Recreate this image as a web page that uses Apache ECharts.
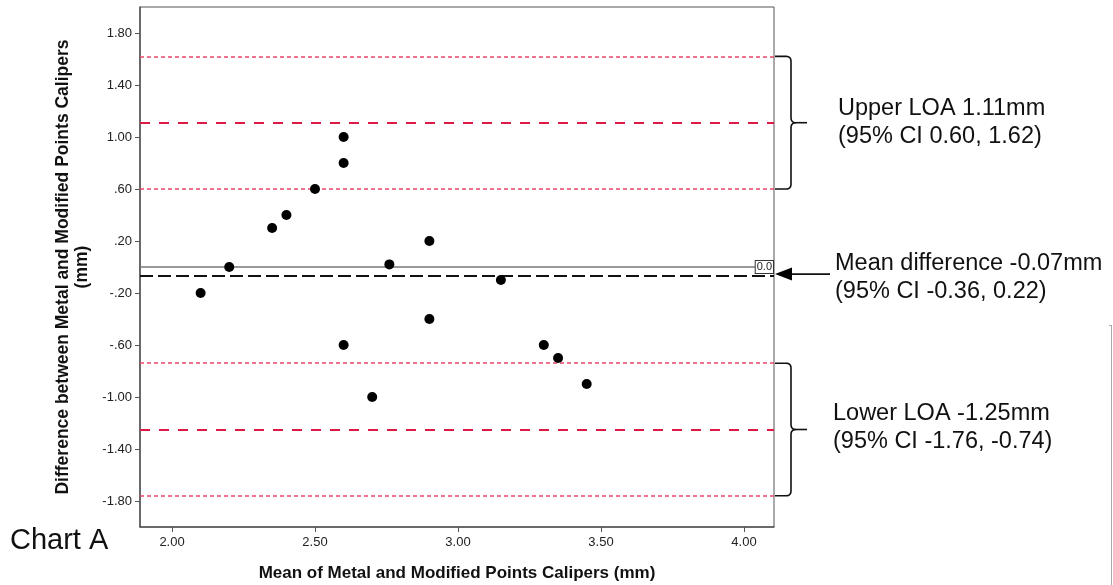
<!DOCTYPE html>
<html><head><meta charset="utf-8">
<script src="https://cdn.jsdelivr.net/npm/echarts@6/dist/echarts.min.js"></script>
<style>html,body{margin:0;padding:0;background:#fff;} #c{width:1113px;height:585px;}</style>
</head><body><div id="c"></div>
<script>
// Data
const meanValues = [2.10, 2.20, 2.35, 2.40, 2.50, 2.60, 2.60, 2.76, 2.90, 2.60, 2.70, 2.90, 3.15, 3.30, 3.35, 3.45];
const diffValues = [-0.20, 0.00, 0.30, 0.40, 0.60, 1.00, 0.80, 0.02, 0.20, -0.60, -1.00, -0.40, -0.10, -0.60, -0.70, -0.90];
const xTickValues = [2.0, 2.5, 3.0, 3.5, 4.0];
const xTickLabels = ["2.00", "2.50", "3.00", "3.50", "4.00"];
const yTickValues = [1.8, 1.4, 1.0, 0.6, 0.2, -0.2, -0.6, -1.0, -1.4, -1.8];
const yTickLabels = ["1.80", "1.40", "1.00", ".60", ".20", "-.20", "-.60", "-1.00", "-1.40", "-1.80"];
const zeroLine = [0];
const meanDiff = [-0.07];
const meanCI = [-0.36, 0.22];
const upperLOA = [1.11];
const upperCI = [0.60, 1.62];
const lowerLOA = [-1.25];
const lowerCI = [-1.76, -0.74];
const annotationTexts = [
  "Upper LOA 1.11mm\n(95% CI 0.60, 1.62)",
  "Mean difference -0.07mm\n(95% CI -0.36, 0.22)",
  "Lower LOA -1.25mm\n(95% CI -1.76, -0.74)"
];
const xRange = [1.888, 4.105];
const yRange = [-2.0, 2.0];

const chart = echarts.init(document.getElementById('c'), null, {renderer: 'canvas'});
const lbl = (vals, labels) => v => { const i = vals.findIndex(t => Math.abs(t - v) < 1e-6); return i >= 0 ? labels[i] : ''; };
const RED_DASH = '#dc1a45', RED_DOT = '#e8456b';
const mk = (v, color, width, dash) => ({ yAxis: v, lineStyle: { color: color, width: width, type: dash } });

chart.setOption({
  animation: false,
  backgroundColor: '#fff',
  grid: { left: 140, right: 339, top: 7, bottom: 58, show: true, borderColor: '#555', borderWidth: 1, outerBoundsMode: 'none', containLabel: false },
  xAxis: {
    type: 'value', min: xRange[0], max: xRange[1],
    name: 'Mean of Metal and Modified Points Calipers (mm)', nameLocation: 'middle', nameGap: 38,
    nameTextStyle: { fontFamily: 'Liberation Sans', fontWeight: 'bold', fontSize: 17, color: '#111' },
    axisLine: { show: true, onZero: false, lineStyle: { color: '#555', width: 1.5 } },
    axisTick: { show: true, length: 5, customValues: xTickValues, lineStyle: { color: '#555' } },
    axisLabel: { customValues: xTickValues, formatter: lbl(xTickValues, xTickLabels), margin: 9,
      fontFamily: 'Liberation Sans', fontSize: 13, color: '#222' },
    splitLine: { show: false }
  },
  yAxis: {
    type: 'value', min: yRange[0], max: yRange[1],
    name: 'Difference between Metal and Modified Points Calipers\n(mm)', nameLocation: 'middle', nameGap: 48,
    nameTextStyle: { fontFamily: 'Liberation Sans', fontWeight: 'bold', fontSize: 17.5, color: '#111', lineHeight: 19, align: 'center' },
    axisLine: { show: true, onZero: false, lineStyle: { color: '#555', width: 1.5 } },
    axisTick: { show: true, length: 5, customValues: yTickValues, lineStyle: { color: '#555' } },
    axisLabel: { customValues: yTickValues, formatter: lbl(yTickValues, yTickLabels), margin: 8,
      fontFamily: 'Liberation Sans', fontSize: 13, color: '#222' },
    splitLine: { show: false }
  },
  series: [{
    type: 'scatter',
    data: meanValues.map((m, i) => [m, diffValues[i]]),
    symbolSize: 10,
    itemStyle: { color: '#000', opacity: 1 },
    z: 5,
    markLine: {
      silent: true, symbol: 'none', animation: false,
      label: { show: false },
      data: [
        mk(upperCI[1], RED_DOT, 1.5, [4, 3]),
        mk(upperLOA[0], RED_DASH, 2, [10, 9]),
        mk(upperCI[0], RED_DOT, 1.5, [4, 3]),
        { yAxis: zeroLine[0], lineStyle: { color: '#777', width: 1.5, type: 'solid' },
          label: { show: true, position: 'insideEnd', distance: 1, formatter: '0.0',
            fontFamily: 'Liberation Sans', fontSize: 11, color: '#222', backgroundColor: '#fff',
            borderColor: '#333', borderWidth: 1, padding: [1, 1, 0, 1] } },
        mk(meanDiff[0], '#111', 2, [13, 5]),
        mk(lowerCI[1], RED_DOT, 1.5, [4, 3]),
        mk(lowerLOA[0], RED_DASH, 2, [10, 9]),
        mk(lowerCI[0], RED_DOT, 1.5, [4, 3])
      ]
    }
  }]
});

// Annotations positioned from the chart's own scales
const P = (x, y) => chart.convertToPixel({ gridIndex: 0 }, [x, y]);
const right = P(xRange[1], 0)[0];
function quad(p0, c, p1, n) {
  const out = [];
  for (let i = 1; i <= n; i++) {
    const t = i / n, u = 1 - t;
    out.push([u * u * p0[0] + 2 * u * t * c[0] + t * t * p1[0], u * u * p0[1] + 2 * u * t * c[1] + t * t * p1[1]]);
  }
  return out;
}
function bracePts(yTop, yMid, yBot) {
  const x0 = right + 1, xv = right + 17, xt = right + 33, r = 5;
  let pts = [[x0, yTop], [xv - r, yTop]];
  pts = pts.concat(quad([xv - r, yTop], [xv, yTop], [xv, yTop + r], 6));
  pts.push([xv, yMid - r]);
  pts = pts.concat(quad([xv, yMid - r], [xv, yMid], [xv + r, yMid], 6));
  const upper = pts;
  let low = [[xv + r, yMid]];
  low = low.concat(quad([xv + r, yMid], [xv, yMid], [xv, yMid + r], 6));
  low.push([xv, yBot - r]);
  low = low.concat(quad([xv, yBot - r], [xv, yBot], [xv - r, yBot], 6));
  low.push([x0, yBot]);
  return [upper, low, [[xv + r, yMid], [xt, yMid]]];
}
const yU = [P(0, upperCI[1])[1], P(0, upperLOA[0])[1], P(0, upperCI[0])[1]];
const yL = [P(0, lowerCI[1])[1], P(0, lowerLOA[0])[1], P(0, lowerCI[0])[1]];
const yM = P(0, meanDiff[0])[1];
const textStyle = { fontFamily: 'Liberation Sans', fontSize: 23.5, fill: '#111', lineHeight: 28, verticalAlign: 'middle', align: 'left' };
const graphics = [];
[bracePts(yU[0], yU[1], yU[2]), bracePts(yL[0], yL[1], yL[2])].forEach(parts => {
  parts.forEach(p => graphics.push({ type: 'polyline', shape: { points: p }, style: { stroke: '#111', lineWidth: 1.6, fill: null } }));
});
graphics.push(
  { type: 'line', shape: { x1: right + 16, y1: yM - 2, x2: right + 56, y2: yM - 2 }, style: { stroke: '#111', lineWidth: 1.6 } },
  { type: 'polygon', shape: { points: [[right + 1, yM - 2], [right + 18, yM - 8.5], [right + 18, yM + 4.5]] }, style: { fill: '#000' } },
  { type: 'text', x: 838, y: yU[1], style: Object.assign({ text: annotationTexts[0] }, textStyle) },
  { type: 'text', x: 835, y: yM + 1.5, style: Object.assign({ text: annotationTexts[1] }, textStyle) },
  { type: 'text', x: 833, y: yL[1] - 2, style: Object.assign({ text: annotationTexts[2] }, textStyle) },
  { type: 'text', x: 10, y: 541, style: { text: 'Chart A', fontFamily: 'Liberation Sans', fontSize: 29, fill: '#111', verticalAlign: 'middle' } },
  { type: 'line', shape: { x1: 1111.5, y1: 325, x2: 1111.5, y2: 585 }, style: { stroke: '#aaa', lineWidth: 1 } },
  { type: 'line', shape: { x1: 1109, y1: 325.5, x2: 1111.5, y2: 325.5 }, style: { stroke: '#aaa', lineWidth: 1 } }
);
chart.setOption({ graphic: graphics });
</script>
</body></html>
